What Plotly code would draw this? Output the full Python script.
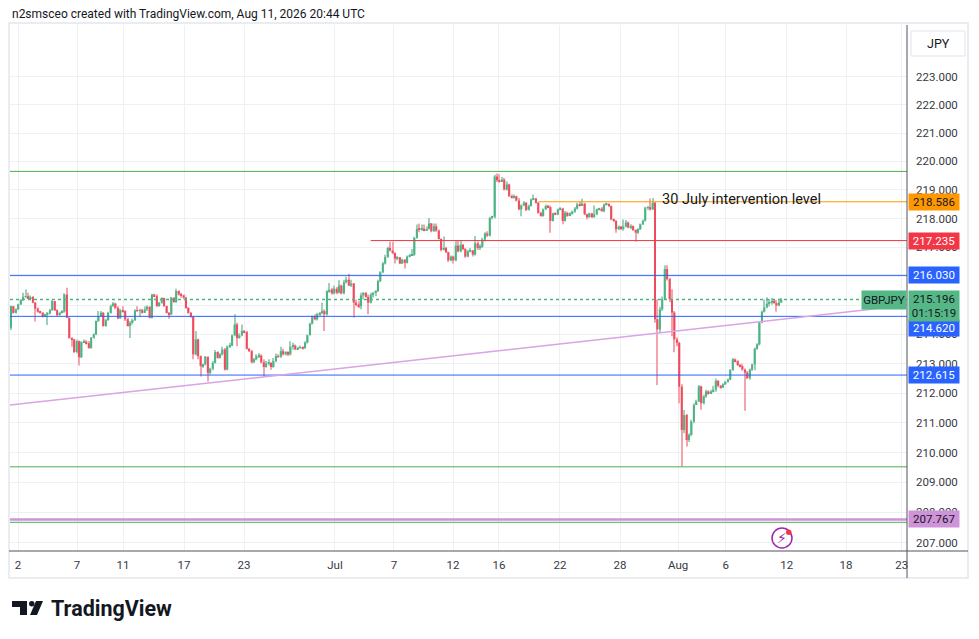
import math
import plotly.graph_objects as go

# GBPJPY 4h candles, 1 Jun - 11 Aug 2026
first_open = 214.23
closes = [
    214.97, 214.74, 214.86, 215.03, 215.18, 215.29, 215.31, 215.25, 215.29, 215.09,
    214.88, 214.78, 214.74, 214.61, 214.69, 214.72, 214.83, 215.14, 214.83, 214.66,
    214.74, 214.78, 215.37, 214.57, 213.88, 213.83, 213.40, 213.77, 213.22, 213.74,
    213.76, 213.70, 213.54, 213.89, 214.00, 214.46, 214.63, 214.74, 214.29, 214.49,
    214.74, 214.97, 215.06, 214.91, 214.55, 214.83, 214.80, 214.52, 214.29, 214.40,
    214.49, 214.82, 214.81, 214.83, 214.74, 214.86, 214.95, 214.57, 215.37, 215.31,
    214.97, 215.09, 215.25, 214.97, 214.74, 214.69, 215.26, 215.11, 215.49, 215.37,
    215.34, 215.26, 214.91, 214.74, 214.61, 213.32,
    213.83, 213.26, 212.92, 212.98, 213.24, 212.69, 212.83, 213.03, 213.40, 213.20,
    213.32, 213.49, 212.80, 213.58, 213.62, 213.97, 214.34, 213.88, 213.97, 214.12,
    214.08, 213.51, 213.43, 213.05, 213.15, 213.26, 213.28, 213.05, 212.89, 213.01,
    213.03, 212.89, 213.09, 213.26, 213.24, 213.43, 213.32, 213.40, 213.32, 213.58,
    213.62, 213.49, 213.54, 213.57, 213.53, 213.72, 213.97, 214.37, 214.63, 214.52,
    214.69, 214.74, 214.80, 214.69, 215.49, 215.54, 215.41, 215.57, 215.43, 215.68,
    215.41, 215.79, 215.88, 215.68, 215.75, 215.09, 215.03, 214.97, 215.34, 215.43,
    215.29, 215.09, 215.37, 215.43, 215.49, 215.83, 216.14,
    216.44, 216.66, 216.98, 216.89, 216.80, 216.61, 216.66, 216.44, 216.57, 216.46,
    216.68, 216.73, 216.74, 217.33, 217.64, 217.62, 217.65, 217.59, 217.64, 217.83,
    217.56, 217.73, 217.58, 217.29, 216.91, 216.98, 216.83, 216.55, 216.68, 216.55,
    217.06, 216.86, 217.09, 216.94, 216.68, 216.86, 216.89, 216.75, 217.14, 216.98,
    217.02, 217.27, 217.48, 217.41, 218.02, 218.06, 219.47,
    219.34, 219.30, 219.36, 219.01, 219.19, 218.78, 218.74, 218.78, 218.63, 218.32,
    218.46, 218.55, 218.30, 218.44, 218.67, 218.70, 218.55, 218.20, 218.09, 218.32,
    218.44, 218.40, 217.92, 218.18, 218.15, 218.32, 218.35, 217.92, 218.20, 218.09,
    218.18, 218.24, 218.35, 218.49, 218.46, 218.52, 218.15, 218.05, 218.18, 218.05,
    218.15, 218.32, 218.35, 218.26, 218.49, 218.52, 218.44, 217.97, 217.92, 217.63,
    217.72, 217.66, 217.72,
    217.86, 217.69, 217.74, 217.60, 217.51, 217.63, 217.80, 217.92, 218.38, 218.40,
    218.32, 218.55, 214.52, 214.17, 214.86, 215.21, 216.25, 215.90, 215.21, 214.75,
    213.83, 213.71, 212.22, 210.76, 211.26, 210.42, 210.59, 211.04, 211.60,
    211.72, 212.23, 211.66, 211.89, 212.06, 212.00, 212.06, 212.12, 212.42, 212.25,
    212.20, 212.30, 212.38, 212.46, 212.78, 213.15, 213.09, 212.95, 212.92, 212.80,
    212.70, 212.51, 212.80, 212.98, 213.51, 213.66, 214.41, 214.78, 214.93, 215.05,
    215.08, 215.15, 215.08, 214.99, 215.10, 215.196,
]
highs = [
    214.99, 214.97, 214.89, 215.05, 215.22, 215.43, 215.54, 215.43, 215.34, 215.31,
    215.11, 214.93, 214.81, 214.77, 214.71, 214.77, 214.88, 215.18, 215.15, 214.86,
    214.78, 214.83, 215.41, 215.60, 214.59, 213.90, 213.85, 213.83, 213.79, 213.77,
    213.83, 213.80, 213.78, 213.91, 214.04, 214.48, 214.80, 214.80, 214.77, 214.54,
    214.78, 215.03, 215.11, 215.09, 214.97, 214.88, 214.97, 214.83, 214.57, 214.46,
    214.54, 214.86, 214.97, 214.88, 214.88, 214.97, 214.99, 214.97, 215.39, 215.40,
    215.37, 215.11, 215.28, 215.26, 214.99, 214.77, 215.29, 215.28, 215.57, 215.52,
    215.43, 215.37, 215.29, 214.94, 214.77, 214.63,
    214.12, 213.85, 213.28, 213.01, 213.26, 213.24, 212.86, 213.09, 213.47, 213.43,
    213.37, 213.58, 213.54, 213.62, 213.72, 214.00, 214.69, 214.40, 214.04, 214.34,
    214.15, 214.12, 213.54, 213.47, 213.20, 213.32, 213.37, 213.32, 213.15, 213.09,
    213.15, 213.05, 213.20, 213.35, 213.32, 213.58, 213.51, 213.43, 213.43, 213.77,
    213.72, 213.66, 213.58, 213.62, 213.60, 213.77, 214.00, 214.40, 214.65, 214.69,
    214.74, 214.77, 215.09, 214.86, 215.52, 215.77, 215.60, 215.68, 215.63, 215.86,
    215.71, 215.88, 215.98, 216.09, 215.88, 215.77, 215.20, 215.14, 215.43, 215.45,
    215.45, 215.37, 215.43, 215.45, 215.52, 215.88, 216.17,
    216.49, 216.74, 217.02, 217.19, 217.19, 216.83, 216.70, 216.66, 216.61, 216.60,
    216.72, 216.78, 216.94, 217.37, 217.79, 217.83, 217.79, 217.79, 217.73, 218.02,
    217.85, 217.83, 217.83, 217.62, 217.31, 217.38, 217.02, 216.86, 216.72, 216.71,
    217.24, 217.22, 217.24, 217.11, 216.98, 216.91, 216.98, 216.91, 217.39, 217.20,
    217.11, 217.33, 217.52, 217.56, 218.06, 218.10, 219.53,
    219.58, 219.55, 219.45, 219.42, 219.30, 219.22, 218.84, 218.84, 218.80, 218.72,
    218.49, 218.61, 218.58, 218.49, 218.70, 218.84, 218.72, 218.58, 218.24, 218.35,
    218.49, 218.48, 218.46, 218.20, 218.22, 218.35, 218.40, 218.38, 218.26, 218.24,
    218.22, 218.28, 218.40, 218.55, 218.58, 218.69, 218.55, 218.17, 218.20, 218.20,
    218.46, 218.35, 218.38, 218.40, 218.52, 218.55, 218.52, 218.46, 217.99, 217.94,
    217.76, 217.74, 217.97,
    217.95, 217.90, 217.80, 217.76, 217.63, 217.66, 217.83, 217.97, 218.41, 218.44,
    218.70, 218.72, 218.58, 215.21, 214.95, 215.30, 216.38, 216.38, 215.95, 215.55,
    214.80, 213.90, 213.75, 212.30, 211.43, 211.30, 210.65, 211.10, 211.66,
    211.78, 212.28, 212.25, 211.95, 212.12, 212.10, 212.12, 212.25, 212.50, 212.44,
    212.28, 212.34, 212.42, 212.50, 212.82, 213.20, 213.18, 213.12, 213.00, 213.00,
    212.84, 212.75, 212.84, 213.00, 213.55, 213.70, 214.45, 214.82, 215.20, 215.28,
    215.22, 215.25, 215.22, 215.18, 215.20, 215.25,
]
lows = [
    214.15, 214.71, 214.72, 214.84, 215.01, 215.15, 215.24, 215.22, 215.22, 215.07,
    214.44, 214.74, 214.71, 214.58, 214.60, 214.32, 214.69, 214.81, 214.80, 214.63,
    214.65, 214.72, 214.74, 214.56, 213.85, 213.58, 213.37, 213.35, 212.94, 213.20,
    213.72, 213.66, 213.51, 213.51, 213.85, 213.97, 214.43, 214.61, 214.26, 214.26,
    214.47, 214.72, 214.95, 214.86, 214.52, 214.54, 214.74, 214.46, 214.26, 213.88,
    214.34, 214.46, 214.77, 214.61, 214.72, 214.74, 214.80, 214.55, 214.55, 215.28,
    214.95, 214.95, 215.05, 214.95, 214.72, 214.54, 214.66, 215.09, 215.09, 215.34,
    215.26, 215.20, 214.88, 214.71, 214.57, 213.15,
    213.28, 213.15, 212.57, 212.86, 212.94, 212.40, 212.63, 212.78, 213.01, 213.17,
    213.18, 213.28, 212.77, 212.78, 213.54, 213.60, 213.94, 213.60, 213.85, 213.94,
    214.04, 213.49, 213.40, 213.01, 213.03, 213.12, 213.20, 213.01, 212.57, 212.86,
    212.94, 212.80, 212.86, 213.05, 213.20, 213.20, 213.28, 213.28, 213.26, 213.28,
    213.49, 213.47, 213.47, 213.51, 213.49, 213.51, 213.69, 213.97, 214.34, 214.49,
    214.48, 214.63, 214.69, 214.12, 214.65, 215.43, 215.37, 215.37, 215.38, 215.41,
    215.37, 215.38, 215.75, 215.66, 215.63, 214.57, 214.97, 214.91, 214.86, 215.20,
    215.26, 214.69, 215.06, 215.26, 215.31, 215.45, 215.79,
    216.10, 216.41, 216.64, 216.86, 216.76, 216.44, 216.55, 216.42, 216.42, 216.27,
    216.44, 216.66, 216.70, 216.70, 217.30, 217.52, 217.58, 217.56, 217.58, 217.62,
    217.52, 217.54, 217.54, 217.27, 216.86, 216.89, 216.80, 216.49, 216.52, 216.44,
    216.52, 216.83, 216.83, 216.91, 216.64, 216.66, 216.83, 216.68, 216.72, 216.91,
    216.91, 216.98, 217.20, 217.36, 217.38, 217.97, 218.00,
    219.28, 219.25, 219.28, 218.98, 218.98, 218.76, 218.70, 218.70, 218.60, 218.29,
    218.08, 218.43, 218.26, 218.28, 218.42, 218.64, 218.52, 218.17, 218.06, 218.06,
    218.30, 218.36, 217.51, 217.90, 218.12, 218.12, 218.28, 217.80, 217.90, 218.06,
    218.08, 218.14, 218.20, 218.32, 218.42, 218.44, 218.12, 217.97, 218.03, 218.02,
    218.03, 218.12, 218.28, 218.24, 218.22, 218.46, 218.40, 217.94, 217.88, 217.51,
    217.60, 217.60, 217.58,
    217.70, 217.66, 217.63, 217.57, 217.19, 217.46, 217.60, 217.78, 217.90, 218.30,
    218.28, 218.30, 214.40, 212.28, 214.06, 214.80, 215.18, 215.85, 215.10, 213.94,
    213.39, 213.60, 211.66, 209.52, 210.65, 210.20, 210.35, 210.55, 210.98,
    211.60, 211.70, 211.44, 211.62, 211.85, 211.95, 211.98, 212.02, 212.05, 212.20,
    212.15, 212.18, 212.28, 212.36, 212.44, 212.76, 213.05, 212.92, 212.88, 212.76,
    211.41, 212.48, 212.46, 212.75, 212.78, 213.48, 213.62, 214.38, 214.75, 214.90,
    214.96, 215.02, 215.05, 214.78, 214.97, 215.08,
]

# date labels, placed on bar numbers
tick_bars = [2.9, 27.2, 46.1, 71.2, 95.9, 133.3, 157.6, 181.9, 200.8, 225.9,
             250.6, 274.5, 294.1, 319.2, 343.6, 366.5]
tick_labels = ["2", "7", "11", "17", "23", "Jul", "7", "12", "16", "22",
               "28", "Aug", "6", "12", "18", "23"]
price_ticks = list(range(207, 224))
hidden_price_ticks = [215, 216]  # sit fully under the price tags

# drawings
blue_levels = [216.030, 214.620, 212.615]
green_levels = [219.65, 209.52, 207.67]
purple_level = 207.767
orange_level = 218.586
orange_from = 217
red_level = 217.235
red_from = 148
last_price = 215.196
countdown = "01:15:19"
trend_bars = [-0.41, 368.7]
trend_prices = [211.60, 215.00]

UP, DOWN = "#4cb383", "#ef4b5c"
UP_WICK, DOWN_WICK = "#9dcfbb", "#f4a4ad"
BLUE, RED, ORANGE = "#2962ff", "#f23645", "#ff9800"
GREEN, PURPLE, PINK = "#4caf50", "#ce93d8", "#d9a3e6"
TXT = "#131722"
X_END = 368.7
X_START = -0.41


# page pixels -> paper coords (plot area is x 10..907, y 25..551 on the page)
def px(x):
    return (x - 10) / 897


def py(y):
    return (551 - y) / 526


bars = list(range(len(closes)))
opens = [first_open] + closes[:-1]
body_lo = [min(o, c) for o, c in zip(opens, closes)]
body_hi = [max(o, c) for o, c in zip(opens, closes)]
body_len = [max(h - l, 0.012) for h, l in zip(body_hi, body_lo)]
is_up = [c >= o for o, c in zip(opens, closes)]
wick_lo = [min(l, b) for l, b in zip(lows, body_lo)]
wick_len = [max(h, b) - w for h, b, w in zip(highs, body_hi, wick_lo)]

fig = go.Figure()
fig.add_trace(go.Bar(
    x=bars, base=wick_lo, y=wick_len, width=0.42,
    marker=dict(color=[UP_WICK if u else DOWN_WICK for u in is_up], line_width=0),
    hoverinfo="skip"))
fig.add_trace(go.Bar(
    x=bars, base=body_lo, y=body_len, width=0.84,
    marker=dict(color=[UP if u else DOWN for u in is_up], line_width=0),
    hoverinfo="skip"))

# horizontal levels
for lvl in blue_levels:
    fig.add_trace(go.Scatter(x=[X_START, X_END], y=[lvl, lvl], mode="lines",
                             line=dict(color=BLUE, width=1), hoverinfo="skip"))
for lvl in green_levels:
    fig.add_trace(go.Scatter(x=[X_START, X_END], y=[lvl, lvl], mode="lines",
                             line=dict(color=GREEN, width=1), hoverinfo="skip"))
fig.add_trace(go.Scatter(x=[X_START, X_END], y=[purple_level, purple_level], mode="lines",
                         line=dict(color=PURPLE, width=2.5), hoverinfo="skip"))
fig.add_trace(go.Scatter(x=[orange_from, X_END], y=[orange_level, orange_level], mode="lines",
                         line=dict(color=ORANGE, width=1), hoverinfo="skip"))
fig.add_trace(go.Scatter(x=[red_from, X_END], y=[red_level, red_level], mode="lines",
                         line=dict(color=RED, width=1), hoverinfo="skip"))
fig.add_trace(go.Scatter(x=trend_bars, y=trend_prices, mode="lines",
                         line=dict(color=PINK, width=1.5), hoverinfo="skip"))
fig.add_trace(go.Scatter(x=[X_START, X_END], y=[last_price, last_price], mode="lines",
                         line=dict(color=UP, width=1.5, dash="dot"), hoverinfo="skip"))

# page body has an 8px margin, so the figure is 8px smaller than the window
fig.update_layout(
    width=971, height=631,
    margin=dict(l=2, r=72, t=17, b=88),
    paper_bgcolor="white", plot_bgcolor="white",
    showlegend=False, barmode="overlay", hovermode=False,
    font=dict(family="Roboto, sans-serif", color=TXT),
    xaxis=dict(range=[X_START, X_END], tickvals=tick_bars, ticktext=tick_labels,
               showgrid=True, gridcolor="#edf0f4", zeroline=False, showline=False,
               ticks="", tickfont=dict(size=11.5, color="#363a45"), ticklabelstandoff=5),
    yaxis=dict(type="log", range=[math.log10(206.72), math.log10(224.85)], side="right",
               tickvals=price_ticks,
               ticktext=["" if v in hidden_price_ticks else f"{v:.3f}" for v in price_ticks],
               showgrid=True, gridcolor="#edf0f4", zeroline=False, showline=False,
               ticks="", tickfont=dict(size=11.5, color="#363a45"), ticklabelstandoff=8),
)


def axis_tag(price, text, bg, fg, h=16, shift=0):
    fig.add_annotation(xref="paper", x=1, xanchor="left", xshift=1,
                       yref="y", y=math.log10(price), yanchor="middle", yshift=shift,
                       text=text, showarrow=False, width=50, height=h, align="center",
                       bgcolor=bg, borderpad=0, font=dict(size=11.5, color=fg))


axis_tag(orange_level, f"{orange_level:.3f}", ORANGE, TXT)
axis_tag(red_level, f"{red_level:.3f}", RED, "white")
axis_tag(blue_levels[0], f"{blue_levels[0]:.3f}", BLUE, "white")
# pushed down below the last-price tag, as TradingView stacks them
axis_tag(blue_levels[1], f"{blue_levels[1]:.3f}", BLUE, "white", shift=-12)
axis_tag(blue_levels[2], f"{blue_levels[2]:.3f}", BLUE, "white")
axis_tag(purple_level, f"{purple_level:.3f}", PURPLE, TXT)
axis_tag(last_price, f"{last_price:.3f}<br>{countdown}", "#55b786", TXT, h=30, shift=-6)
fig.add_annotation(xref="paper", x=1, xanchor="right", yref="y", y=math.log10(last_price),
                   yanchor="middle", text="GBPJPY", showarrow=False, width=44, height=18,
                   bgcolor="#55b786", borderpad=0, font=dict(size=11.5, color=TXT))

fig.add_annotation(xref="x", x=267, xanchor="left", yref="y", y=math.log10(orange_level),
                   yanchor="middle", yshift=2, text="30 July intervention level",
                   showarrow=False, font=dict(size=14.5, color=TXT))

fig.add_annotation(xref="paper", x=0, xanchor="left", yref="paper", y=py(14), yanchor="middle",
                   text="n2smsceo created with TradingView.com, Aug 11, 2026 20:44 UTC",
                   showarrow=False, font=dict(size=12, color=TXT))
fig.add_annotation(xref="paper", x=px(938), xanchor="center", yref="paper", y=py(43.5),
                   yanchor="middle", text="JPY", showarrow=False, font=dict(size=12.5, color=TXT))
fig.add_annotation(xref="paper", x=px(49), xanchor="left", yref="paper", y=py(608),
                   yanchor="middle", text="<b>TradingView</b>", showarrow=False,
                   font=dict(size=21.5, color=TXT))
fig.add_annotation(xref="paper", x=px(782), xanchor="center", yref="paper", y=py(538),
                   yanchor="middle", text="⚡", showarrow=False,
                   font=dict(size=14, color="#9c27b0", family="DejaVu Sans"))

# pane frame, separators, currency box, logo mark, alert icon
chrome = [
    dict(type="rect", x0=px(9), x1=px(968), y0=py(578), y1=py(23),
         line=dict(color="#e9ecf1", width=2)),
    dict(type="line", x0=px(9), x1=px(968), y0=0, y1=0, line=dict(color="#50535e", width=1)),
    dict(type="line", x0=1, x1=1, y0=py(578), y1=py(25), line=dict(color="#50535e", width=1)),
    dict(type="rect", x0=px(911), x1=px(965), y0=py(56), y1=py(31),
         line=dict(color="#e0e3eb", width=1), fillcolor="white"),
    dict(type="path", fillcolor=TXT, line_width=0,
         path=f"M {px(12)},{py(601)} L {px(27)},{py(601)} L {px(27)},{py(615)} "
              f"L {px(20)},{py(615)} L {px(20)},{py(607)} L {px(12)},{py(607)} Z"),
    dict(type="circle", fillcolor=TXT, line_width=0,
         x0=px(29), x1=px(34.5), y0=py(606.5), y1=py(601)),
    dict(type="path", fillcolor=TXT, line_width=0,
         path=f"M {px(36)},{py(601)} L {px(43)},{py(601)} L {px(37)},{py(615)} "
              f"L {px(30)},{py(615)} Z"),
    dict(type="circle", x0=px(772), x1=px(792), y0=py(548), y1=py(528),
         line=dict(color="#9c27b0", width=1.5)),
    dict(type="circle", x0=px(786), x1=px(791.5), y0=py(535), y1=py(529.5),
         fillcolor=RED, line_width=0),
]
for s in chrome:
    fig.add_shape(xref="paper", yref="paper", **s)

fig.write_html("out.html", config={"displayModeBar": False})
